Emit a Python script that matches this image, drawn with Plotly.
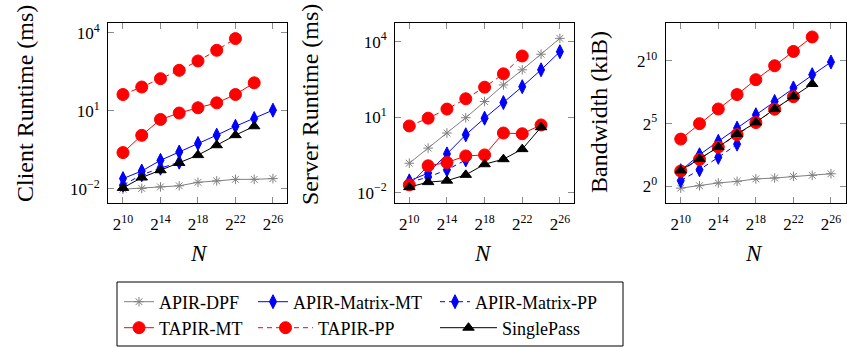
import math
import plotly.graph_objects as go

# ---------------- data ----------------
EXP_9 = [10, 12, 14, 16, 18, 20, 22, 24, 26]
EXP_8 = [10, 12, 14, 16, 18, 20, 22, 24]
EXP_7 = [10, 12, 14, 16, 18, 20, 22]
EXP_4 = [10, 12, 14, 16]

SERIES = ["APIR-DPF", "APIR-Matrix-MT", "APIR-Matrix-PP", "TAPIR-MT", "TAPIR-PP", "SinglePass"]
SERIES_EXP = {
    "APIR-DPF": EXP_9, "APIR-Matrix-MT": EXP_9, "APIR-Matrix-PP": EXP_4,
    "TAPIR-MT": EXP_8, "TAPIR-PP": EXP_7, "SinglePass": EXP_8,
}

# Client runtime (ms)
client_apir_dpf = [0.0098, 0.0105, 0.012, 0.0132, 0.018, 0.0204, 0.0234, 0.0234, 0.025]
client_apir_matrix_mt = [0.025, 0.049, 0.126, 0.263, 0.56, 1.17, 2.57, 5.1, 10.7]
client_apir_matrix_pp = [0.014, 0.035, 0.063, 0.107]
client_tapir_mt = [0.25, 1.15, 4.7, 8.3, 13.2, 20.4, 42.7, 120]
client_tapir_pp = [42.7, 83, 174, 363, 832, 2140, 6030]
client_singlepass = [0.011, 0.0275, 0.0525, 0.1, 0.2, 0.48, 1.17, 2.57]

# Server runtime (ms)
server_apir_dpf = [0.148, 0.59, 2.34, 9.5, 41.7, 190, 760, 3160, 13500]
server_apir_matrix_mt = [0.0295, 0.060, 0.347, 2.0, 9.1, 38, 162, 760, 3980]
server_apir_matrix_pp = [0.0257, 0.0417, 0.081, 0.2]
server_tapir_mt = [0.0204, 0.117, 0.158, 0.288, 0.316, 2.34, 2.19, 4.9]
server_tapir_pp = [4.47, 9.1, 20.9, 53.7, 155, 525, 2690]
server_singlepass = [0.0166, 0.0263, 0.030, 0.051, 0.135, 0.214, 0.537, 3.98]

# Bandwidth (kiB)
bw_apir_dpf = [0.91, 1.04, 1.21, 1.32, 1.51, 1.59, 1.74, 1.84, 2.01]
bw_apir_matrix_mt = [2.38, 5.74, 12.0, 24.9, 52, 108, 228, 474, 955]
bw_apir_matrix_pp = [1.37, 2.51, 4.96, 10.3]
bw_tapir_mt = [13.6, 31.8, 71.5, 158, 360, 776, 1710, 3790]
bw_tapir_pp = [2.33, 4.44, 8.75, 17.4, 33.8, 70.5, 141]
bw_singlepass = [2.41, 4.53, 8.75, 18.0, 34.1, 71.5, 143, 284]

PANELS = [
    {"title": "Client Runtime (ms)", "values": [client_apir_dpf, client_apir_matrix_mt, client_apir_matrix_pp,
                                                client_tapir_mt, client_tapir_pp, client_singlepass]},
    {"title": "Server Runtime (ms)", "values": [server_apir_dpf, server_apir_matrix_mt, server_apir_matrix_pp,
                                                server_tapir_mt, server_tapir_pp, server_singlepass]},
    {"title": "Bandwidth (kiB)", "values": [bw_apir_dpf, bw_apir_matrix_mt, bw_apir_matrix_pp,
                                            bw_tapir_mt, bw_tapir_pp, bw_singlepass]},
]

X_TICK_EXP = [10, 14, 18, 22, 26]
Y_TICKS_MS = [0.01, 10, 10000]
Y_TICKTEXT_MS = ["10<sup>−2</sup>", "10<sup>1</sup>", "10<sup>4</sup>"]
Y_TICK_EXP_BW = [0, 5, 10]

# ---------------- styling ----------------
W, H = 847, 347
FONT = "Liberation Serif"
STYLE = {
    "APIR-DPF": dict(color="#808080", symbol="asterisk-open", size=8, dash="solid"),
    "APIR-Matrix-MT": dict(color="#0000ff", symbol="diamond-tall", size=10, dash="solid"),
    "APIR-Matrix-PP": dict(color="#0000ff", symbol="diamond-tall", size=10, dash="5px,4px"),
    "TAPIR-MT": dict(color="#ff0000", symbol="circle", size=12, dash="solid"),
    "TAPIR-PP": dict(color="#ff0000", symbol="circle", size=12, dash="5px,4px"),
    "SinglePass": dict(color="#000000", symbol="triangle-up", size=10, dash="solid"),
}
# one legend per entry: (legend id, sample-left px, row-centre px, itemwidth)
LEGEND_POS = {
    "APIR-DPF": ("legend", 119, 302, 30),
    "APIR-Matrix-MT": ("legend2", 253, 302, 30),
    "APIR-Matrix-PP": ("legend3", 435, 302, 30),
    "TAPIR-MT": ("legend4", 119, 328, 30),
    "TAPIR-PP": ("legend5", 253, 328, 55),
    "SinglePass": ("legend6", 435, 328, 57),
}

PX_X = [(108, 287), (395, 574), (665.7, 846)]
PX_TOP, PX_BOT = 23, 203
XRANGE_EXP = [(8.4, 27.5), (8.48, 27.5), (8.4, 27.6)]
LOG2 = math.log10(2)
YRANGES = [(-2.54, 4.38), (-2.41, 4.74), (-1.32 * LOG2, 13.0 * LOG2)]

fig = go.Figure()

for p, panel in enumerate(PANELS):
    sfx = "" if p == 0 else str(p + 1)
    for name, vals in zip(SERIES, panel["values"]):
        st = STYLE[name]
        xs = [2 ** e for e in SERIES_EXP[name]]
        fig.add_trace(go.Scatter(
            x=xs, y=vals, name=name, mode="lines+markers",
            xaxis="x" + sfx, yaxis="y" + sfx,
            line=dict(color=st["color"], width=1, dash=st["dash"]),
            marker=dict(color=st["color"], symbol=st["symbol"], size=st["size"],
                        line=dict(color=st["color"], width=1)),
            showlegend=(p == 0), legend=LEGEND_POS[name][0], legendgroup=name,
        ))

axis_common = dict(
    type="log", showgrid=False, zeroline=False, showline=True, linecolor="#000000", linewidth=1,
    mirror="ticks", ticks="inside", ticklen=6, tickcolor="#8c8c8c", tickwidth=1, automargin=False,
    tickfont=dict(family=FONT, size=17, color="#000000"),
)
layout = dict(
    width=W, height=H, margin=dict(l=0, r=0, t=0, b=0, autoexpand=False),
    paper_bgcolor="#ffffff", plot_bgcolor="#ffffff",
    font=dict(family=FONT, color="#000000"),
)
annotations = []
for p in range(3):
    sfx = "" if p == 0 else str(p + 1)
    x0, x1 = PX_X[p]
    xa = dict(axis_common)
    xa.update(domain=[x0 / W, x1 / W], anchor="y" + sfx,
              range=[XRANGE_EXP[p][0] * LOG2, XRANGE_EXP[p][1] * LOG2],
              tickvals=[2 ** e for e in X_TICK_EXP],
              ticktext=["2<sup>%d</sup>" % e for e in X_TICK_EXP],
              ticklabelstandoff=6)
    ya = dict(axis_common)
    ya.update(domain=[1 - PX_BOT / H, 1 - PX_TOP / H], anchor="x" + sfx,
              range=list(YRANGES[p]), ticklabelstandoff=4)
    if p < 2:
        ya.update(tickvals=Y_TICKS_MS, ticktext=Y_TICKTEXT_MS)
    else:
        ya.update(tickvals=[2 ** e for e in Y_TICK_EXP_BW],
                  ticktext=["2<sup>%d</sup>" % e for e in Y_TICK_EXP_BW])
    layout["xaxis" + sfx] = xa
    layout["yaxis" + sfx] = ya

YT_X = [25, 310, 599]
YT_Y = [104, 105, 112]
NX = [199, 483, 754]
for p, panel in enumerate(PANELS):
    annotations.append(dict(text=panel["title"], x=YT_X[p] / W, y=1 - YT_Y[p] / H, xref="paper", yref="paper",
                            showarrow=False, textangle=-90, xanchor="center", yanchor="middle",
                            font=dict(family=FONT, size=24, color="#000000")))
    annotations.append(dict(text="<i>N</i>", x=NX[p] / W, y=1 - 253 / H, xref="paper", yref="paper",
                            showarrow=False, xanchor="center", yanchor="middle",
                            font=dict(family=FONT, size=23, color="#000000")))
layout["annotations"] = annotations

for name, (key, lx, ly, iw) in LEGEND_POS.items():
    layout[key] = dict(orientation="v", xanchor="left", yanchor="middle", x=lx / W, y=1 - ly / H,
                       bgcolor="rgba(0,0,0,0)", borderwidth=0, itemwidth=iw,
                       font=dict(family=FONT, size=18, color="#000000"))

layout["shapes"] = [dict(type="rect", xref="paper", yref="paper",
                         x0=117 / W, x1=623 / W, y0=1 - 346 / H, y1=1 - 282 / H,
                         line=dict(color="#000000", width=1), fillcolor="rgba(0,0,0,0)")]

fig.update_layout(**layout)
fig.write_html("out.html", config={"displayModeBar": False},
               post_script="document.body.style.margin='0';document.body.style.overflow='hidden';")
